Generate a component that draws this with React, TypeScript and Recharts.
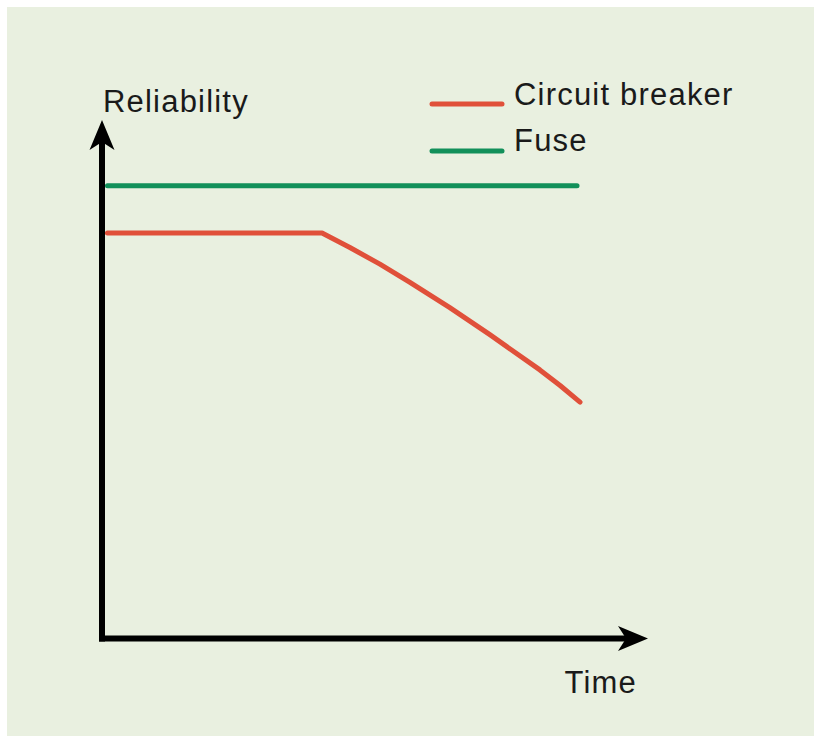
import React from 'react';
import { LineChart, Line, XAxis, YAxis, ReferenceLine, Legend } from 'recharts';

// Time (0-100 scale) and reliability (0-100 scale)
const fuseTime = [1.0, 87.0];
const fuseReliability = [87.3, 87.3];
const breakerTime = [1.0, 40.3, 45.4, 50.9, 56.4, 63.7, 71.1, 80.2, 83.9, 87.55];
const breakerReliability = [78.2, 78.2, 75.4, 72.2, 68.7, 63.8, 58.55, 51.8, 48.8, 45.6];

const seriesNames = ['Circuit breaker', 'Fuse'];
const axisLabels = { x: 'Time', y: 'Reliability' };

const fuseData = fuseTime.map((t, i) => ({ t, r: fuseReliability[i] }));
const breakerData = breakerTime.map((t, i) => ({ t, r: breakerReliability[i] }));

const RED = '#e0503a';
const GREEN = '#12905a';
const TEXT = '#1a1a1a';
const FONT = '"Liberation Sans", Arial, Helvetica, sans-serif';

const VArrow = (props: any) => {
  const { x1, y1, x2, y2 } = props;
  const x = x1;
  const bottom = Math.max(y1, y2);
  const tip = Math.min(y1, y2);
  return (
    <g>
      <line x1={x} y1={bottom + 3} x2={x} y2={tip + 20} stroke="#000" strokeWidth={6} />
      <polygon
        points={`${x},${tip} ${x + 12.5},${tip + 30} ${x},${tip + 22} ${x - 12.5},${tip + 30}`}
        fill="#000"
      />
      <text x={x + 1} y={tip - 8} fontSize={31} letterSpacing={1.2} fill={TEXT} fontFamily={FONT}>
        {axisLabels.y}
      </text>
    </g>
  );
};

const HArrow = (props: any) => {
  const { x1, y1, x2 } = props;
  const y = y1;
  const left = Math.min(x1, x2);
  const tip = Math.max(x1, x2);
  return (
    <g>
      <line x1={left - 3} y1={y} x2={tip - 20} y2={y} stroke="#000" strokeWidth={6} />
      <polygon
        points={`${tip},${y} ${tip - 30},${y - 12.5} ${tip - 22},${y} ${tip - 30},${y + 12.5}`}
        fill="#000"
      />
      <text x={tip - 11} y={y + 54.5} textAnchor="end" fontSize={31} letterSpacing={1.2} fill={TEXT} fontFamily={FONT}>
        {axisLabels.x}
      </text>
    </g>
  );
};

const LegendContent = (props: any) => {
  const payload = props.payload || [];
  const order = seriesNames
    .map((n) => payload.find((p: any) => p.value === n))
    .filter(Boolean);
  return (
    <svg width={380} height={100} style={{ display: 'block' }}>
      {order.map((p: any, i: number) => (
        <g key={p.value}>
          <line x1={5} x2={75} y1={37 + i * 47} y2={37 + i * 47} stroke={p.color} strokeWidth={5} strokeLinecap="round" />
          <text x={87} y={38 + i * 46} fontSize={31} letterSpacing={1.2} fill={TEXT} fontFamily={FONT}>
            {p.value}
          </text>
        </g>
      ))}
    </svg>
  );
};

export default function App() {
  return (
    <div style={{ position: 'absolute', left: 7, top: 7, width: 807, height: 729, background: '#e9f0e0' }}>
      <LineChart
        width={807}
        height={729}
        margin={{ left: 95, right: 166, top: 113, bottom: 97.5 }}
      >
        <XAxis type="number" dataKey="t" domain={[0, 100]} hide allowDataOverflow />
        <YAxis type="number" dataKey="r" domain={[0, 100]} hide allowDataOverflow />
        <Line
          data={breakerData}
          dataKey="r"
          name={seriesNames[0]}
          type="linear"
          stroke={RED}
          strokeWidth={5}
          strokeLinecap="round"
          strokeLinejoin="round"
          dot={false}
          activeDot={false}
          isAnimationActive={false}
        />
        <Line
          data={fuseData}
          dataKey="r"
          name={seriesNames[1]}
          type="linear"
          stroke={GREEN}
          strokeWidth={5}
          strokeLinecap="round"
          dot={false}
          activeDot={false}
          isAnimationActive={false}
        />
        <ReferenceLine segment={[{ x: 0, y: 0 }, { x: 0, y: 100 }]} shape={VArrow} ifOverflow="visible" />
        <ReferenceLine segment={[{ x: 0, y: 0 }, { x: 100, y: 0 }]} shape={HArrow} ifOverflow="visible" />
        <Legend
          layout="vertical"
          align="center"
          verticalAlign="middle"
          content={LegendContent}
          wrapperStyle={{ position: 'absolute', left: 420, top: 60, width: 380, height: 100 }}
        />
      </LineChart>
    </div>
  );
}
